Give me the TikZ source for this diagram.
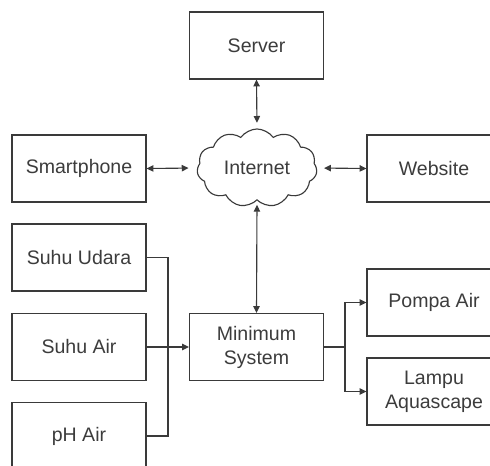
\documentclass[tikz,border=0pt]{standalone}
\usepackage{fontspec}
\setmainfont{Liberation Sans}
\usepackage{xcolor}
\usetikzlibrary{positioning}
\usetikzlibrary{arrows.meta}
\usetikzlibrary{shapes.symbols}
\definecolor{lines}{HTML}{3A3A3A}
\definecolor{txt}{HTML}{3C3C3C}
\tikzset{block/.style={draw=lines, line width=0.8pt, text=txt, minimum width=3.35cm, minimum height=1.675cm, align=center, font=\fontsize{13.9}{17}\selectfont}}
\tikzset{link/.style={draw=lines, line width=0.8pt, -{Triangle[length=1.7mm,width=1.6mm]}}}
\tikzset{both/.style={link, {Triangle[length=1.7mm,width=1.6mm]}-{Triangle[length=1.7mm,width=1.6mm]}}}

\begin{document}
\begin{tikzpicture}[x=0.025cm, y=-0.025cm]
\useasboundingbox (0,0) rectangle (490,465);

\node[block] (server) at (256.5,45.5) {Server};
\node[block] (phone) at (79,168.5) {Smartphone};
\node[block] (web) at (434,168.5) {Website};
\node[cloud, cloud puffs=11, cloud puff arc=110, aspect=1.6, draw=lines, line width=0.8pt, text=txt,
      minimum width=3cm, minimum height=1.95cm, inner sep=0pt,
      font=\fontsize{13.9}{17}\selectfont] (net) at (257,168) {Internet};

\node[block] (udara) at (79,257.5) {Suhu Udara};
\node[block] (air) at (79,347) {Suhu Air};
\node[block] (ph) at (79,436) {pH Air};
\node[block] (ms) at (256.5,347) {Minimum\\System};
\node[block] (pompa) at (434,302.5) {Pompa Air};
\node[block] (lampu) at (434,391.5) {Lampu\\Aquascape};

\coordinate (bus) at (168,347);
\coordinate (split) at (345,347);

% internet links
\draw[both, shorten >=4pt] (server.south) -- (net.north);
\draw[both, shorten >=6pt] (phone.east) -- (net.west);
\draw[both, shorten >=5pt] (web.west) -- (net.east);
\draw[both, shorten >=3pt] (ms.north) -- (net.south);

% sensors
\draw[draw=lines, line width=0.8pt] (udara.east) -| (bus) |- (ph.east);
\draw[link] (air.east) -- (ms.west);

% outputs
\draw[draw=lines, line width=0.8pt] (ms.east) -- (split);
\draw[link] (split) |- (pompa.west);
\draw[link] (split) |- (lampu.west);
\end{tikzpicture}
\end{document}
